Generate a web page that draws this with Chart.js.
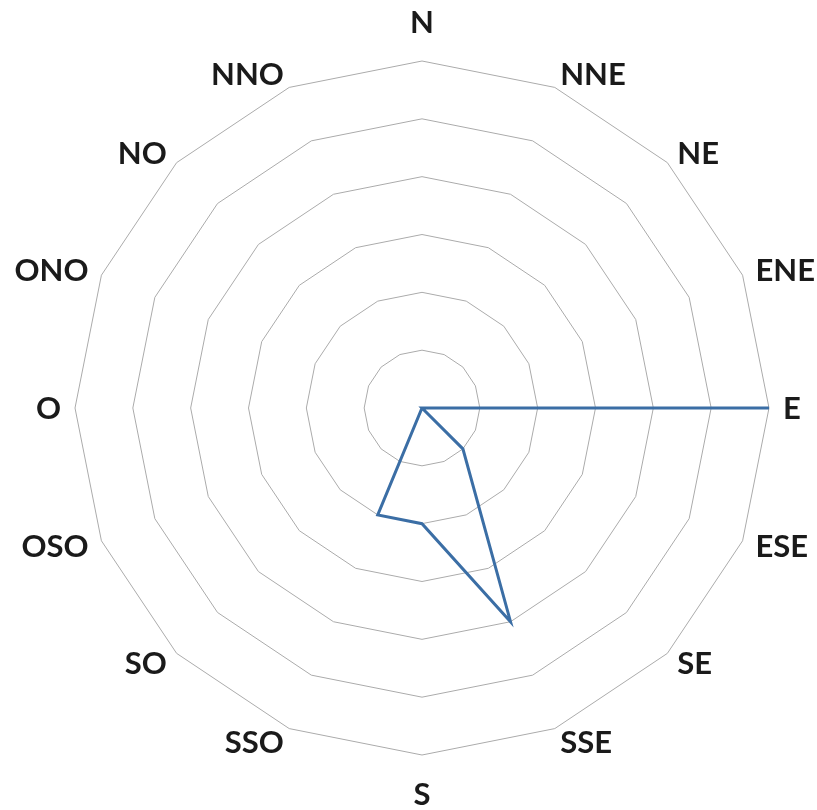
<!DOCTYPE html>
<html>
<head>
<meta charset="utf-8">
<script src="https://cdn.jsdelivr.net/npm/chart.js@4/dist/chart.umd.min.js"></script>
<style>
  html, body { margin: 0; padding: 0; background: #fff; }
  #wrap { width: 817px; height: 810px; }
</style>
</head>
<body>
<div id="wrap"><canvas id="radar-chart"></canvas></div>
<script>
  var directions = ['N', 'NNE', 'NE', 'ENE', 'E', 'ESE', 'SE', 'SSE',
                    'S', 'SSO', 'SO', 'OSO', 'O', 'ONO', 'NO', 'NNO'];
  var values = [0, 0, 0, 0, 6, 0, 1, 4, 2, 2, 0, 0, 0, 0, 0, 0];
  var tickMax = 6;
  var tickStep = 1;

  // Direction labels, placed just outside each outer vertex like the original.
  var compassLabels = {
    id: 'compassLabels',
    afterDraw: function(chart) {
      var scale = chart.scales.r;
      var c = chart.ctx;
      c.save();
      c.font = 'bold 31px Lato';
      c.fillStyle = '#1a1a1a';
      directions.forEach(function(label, i) {
        var outer = scale.getPointPosition(i, scale.drawingArea);
        var ux = (outer.x - scale.xCenter) / scale.drawingArea;
        var uy = (outer.y - scale.yCenter) / scale.drawingArea;
        var p;
        if (Math.abs(uy) > 0.99) {
          // straight up / down
          p = scale.getPointPosition(i, scale.drawingArea + 28);
          c.textAlign = 'center';
          c.textBaseline = uy < 0 ? 'alphabetic' : 'top';
          c.fillText(label, p.x, uy < 0 ? p.y : p.y - 4);
        } else {
          p = scale.getPointPosition(i, scale.drawingArea + 14);
          c.textAlign = Math.abs(ux) < 0.01 ? 'center' : (ux > 0 ? 'left' : 'right');
          c.textBaseline = 'middle';
          c.fillText(label, p.x, p.y + 1);
        }
      });
      c.restore();
    }
  };

  var ctx = document.getElementById('radar-chart');

  new Chart(ctx, {
    type: 'radar',
    data: {
      labels: directions,
      datasets: [{
        data: values,
        borderColor: '#3b6ea5',
        backgroundColor: 'rgba(0,0,0,0)',
        borderWidth: 3,
        pointRadius: 0,
        fill: false
      }]
    },
    plugins: [compassLabels],
    options: {
      responsive: true,
      maintainAspectRatio: false,
      animation: false,
      layout: {
        padding: { top: 61, bottom: 55, left: 75, right: 48 }
      },
      plugins: {
        legend: { display: false },
        tooltip: { enabled: false }
      },
      scales: {
        r: {
          min: 0,
          max: tickMax,
          ticks: { stepSize: tickStep, display: false },
          angleLines: { display: false },
          grid: { color: '#ababab', lineWidth: 1 },
          pointLabels: { display: false }
        }
      }
    }
  });
</script>
</body>
</html>
